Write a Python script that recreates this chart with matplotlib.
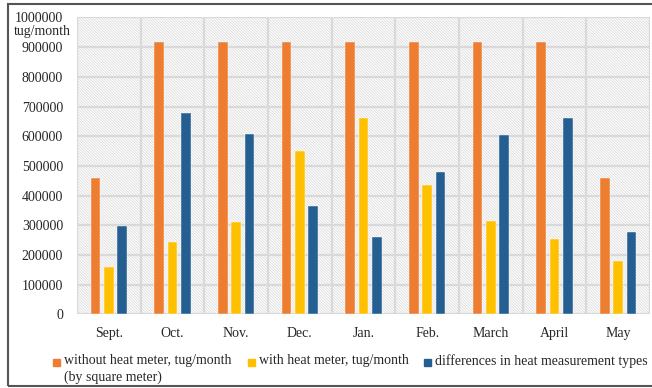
import matplotlib
matplotlib.use("Agg")
import matplotlib.pyplot as plt
import matplotlib.patches as mpatches
import numpy as np

months = ["Sept.", "Oct.", "Nov.", "Dec.", "Jan.", "Feb.", "March", "April", "May"]
without_meter = [458500, 917000, 917000, 917000, 917000, 917000, 917000, 917000, 458500]
with_meter = [160000, 242000, 310000, 550000, 662000, 435000, 314000, 255000, 180000]
differences = [299000, 677000, 606000, 366000, 259000, 479000, 603000, 662000, 278000]
series_labels = ["without heat meter, tug/month\n(by square meter)",
                 "with heat meter, tug/month",
                 "differences in heat measurement types"]
colors = ["#ED7D31", "#FFC000", "#255E91"]
yticks = list(range(0, 1000001, 100000))

plt.rcParams["font.family"] = ["Liberation Serif", "DejaVu Serif"]
plt.rcParams["hatch.color"] = "#dcdcdc"
plt.rcParams["hatch.linewidth"] = 0.6

fig = plt.figure(figsize=(6.52, 3.88), dpi=100)
ax = fig.add_axes([0.118, 0.190, 0.879, 0.765])

# hatched plot background
ax.add_patch(mpatches.Rectangle((0, 0), 1, 1, transform=ax.transAxes,
                                facecolor="white", edgecolor="#dcdcdc",
                                hatch="\\" * 12, linewidth=0, zorder=0))

x = np.arange(len(months))
width = 0.15
step = 0.21
for i, (vals, c) in enumerate(zip([without_meter, with_meter, differences], colors)):
    ax.bar(x + (i - 1) * step, vals, width=width, color=c, zorder=3,
           edgecolor="white", linewidth=0.3)

ax.set_xlim(-0.5, len(months) - 0.5)
ax.set_ylim(0, 1000000)
ax.set_yticks(yticks)
ax.set_yticklabels([str(v) for v in yticks])
ax.set_xticks(x)
ax.set_xticklabels(months)
ax.set_xticks(np.arange(-0.5, len(months)), minor=True)

ax.grid(True, axis="y", which="major", color="#d9d9d9", linewidth=1.6, zorder=1)
ax.grid(True, axis="x", which="minor", color="#d9d9d9", linewidth=1.6, zorder=1)
ax.grid(False, axis="x", which="major")
ax.set_axisbelow(True)
for s in ax.spines.values():
    s.set_visible(False)
ax.tick_params(axis="both", which="both", length=0, labelsize=10, colors="#262626")
ax.tick_params(axis="y", pad=10)
ax.tick_params(axis="x", pad=9)

# unit label under the top tick
fig.text(71 / 652, 1 - 32 / 388, "tug/month", ha="right", va="center", fontsize=10,
         color="#262626")

# legend row under the axis
legend_x = [53, 248, 424]
row1_y = 1 - 362 / 388
for lx, lab, c in zip(legend_x, series_labels, colors):
    fig.add_artist(mpatches.Rectangle((lx / 652, row1_y - 3.5 / 388), 7 / 652, 7 / 388,
                                      transform=fig.transFigure, color=c))
    fig.text((lx + 11) / 652, row1_y + 8 / 388, lab, ha="left", va="top",
             fontsize=10, color="#262626", linespacing=1.3)

# outer frame
fig.add_artist(mpatches.Rectangle((8 / 652, 2 / 388), 1.0, 382 / 388,
                                  transform=fig.transFigure, fill=False,
                                  edgecolor="#555555", linewidth=1.5, clip_on=False))

fig.savefig("out.png", dpi=100)
